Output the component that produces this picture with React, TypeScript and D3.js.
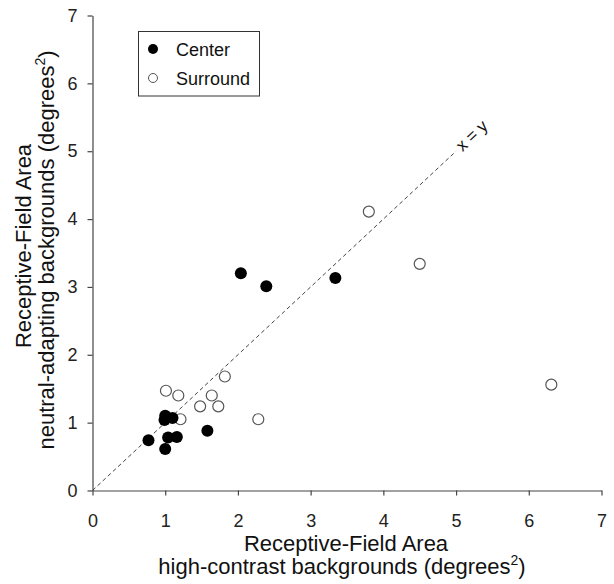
import { useEffect, useRef } from 'react';
import * as d3 from 'd3';

const WIDTH = 614;
const HEIGHT = 584;
const FONT = 'Arial, "Liberation Sans", sans-serif';

// Center and surround receptive-field areas (x: high-contrast, y: neutral-adapting)
const centerX = [1.0, 0.99, 1.1, 0.77, 1.0, 1.04, 1.16, 1.58, 2.04, 2.39, 3.34];
const centerY = [1.1, 1.04, 1.07, 0.74, 0.61, 0.78, 0.79, 0.88, 3.2, 3.01, 3.13];
const surroundX = [1.01, 1.18, 1.21, 1.48, 1.64, 1.73, 1.82, 2.28, 3.8, 4.5, 6.31];
const surroundY = [1.47, 1.4, 1.05, 1.24, 1.4, 1.24, 1.68, 1.05, 4.11, 3.34, 1.56];
const ticks = [0, 1, 2, 3, 4, 5, 6, 7];
const identityLine = [0, 5];
const legendItems = ['Center', 'Surround'];

export default function App() {
  const svgRef = useRef<SVGSVGElement>(null);

  useEffect(() => {
    const svg = d3.select(svgRef.current);
    svg.selectAll('*').remove();

    const x = d3.scaleLinear().domain([0, 7]).range([92.5, 601.5]);
    const y = d3.scaleLinear().domain([0, 7]).range([490.5, 15.5]);

    // Axes
    const xAxis = svg.append('g')
      .attr('transform', `translate(0,${y(0)})`)
      .call(d3.axisBottom(x).tickValues(ticks).tickFormat(d3.format('d')).tickSize(5).tickPadding(19).tickSizeOuter(0));
    const yAxis = svg.append('g')
      .attr('transform', `translate(${x(0)},0)`)
      .call(d3.axisLeft(y).tickValues(ticks).tickFormat(d3.format('d')).tickSize(5).tickPadding(10).tickSizeOuter(0));

    [xAxis, yAxis].forEach((a) => {
      a.select('.domain').attr('stroke', '#444').attr('stroke-width', 1.2);
      a.selectAll('.tick line').attr('stroke', '#444').attr('stroke-width', 1.2);
      a.selectAll('.tick text')
        .style('font-family', FONT)
        .style('font-size', '18px')
        .attr('fill', '#222');
    });
    xAxis.selectAll('.tick text').attr('dy', '0.71em');

    // x = y reference line
    svg.append('line')
      .attr('x1', x(identityLine[0]))
      .attr('y1', y(identityLine[0]))
      .attr('x2', x(identityLine[1]))
      .attr('y2', y(identityLine[1]))
      .attr('stroke', '#444')
      .attr('stroke-width', 1)
      .attr('stroke-dasharray', '4,3');

    const ang = (Math.atan2(y(0) - y(1), x(1) - x(0)) * 180) / Math.PI;
    svg.append('text')
      .attr('transform', `translate(${x(5.06) + 2},${y(5.0) + 1}) rotate(${-ang})`)
      .style('font-family', FONT)
      .style('font-size', '17px')
      .attr('fill', '#111')
      .text('x = y');

    // Points
    svg.append('g')
      .selectAll('circle')
      .data(surroundX.map((v, i) => [v, surroundY[i]]))
      .join('circle')
      .attr('cx', (d) => x(d[0]))
      .attr('cy', (d) => y(d[1]))
      .attr('r', 5.5)
      .attr('fill', '#fff')
      .attr('stroke', '#555')
      .attr('stroke-width', 1.2);

    svg.append('g')
      .selectAll('circle')
      .data(centerX.map((v, i) => [v, centerY[i]]))
      .join('circle')
      .attr('cx', (d) => x(d[0]))
      .attr('cy', (d) => y(d[1]))
      .attr('r', 6)
      .attr('fill', '#000');

    // Legend
    const lg = svg.append('g');
    lg.append('rect')
      .attr('x', 138.5).attr('y', 31.5)
      .attr('width', 121).attr('height', 64.5)
      .attr('fill', '#fff').attr('stroke', '#333').attr('stroke-width', 1);
    legendItems.forEach((name, i) => {
      lg.append('circle')
        .attr('cx', 153).attr('cy', 49 + i * 29)
        .attr('r', i === 0 ? 5 : 4.5)
        .attr('fill', i === 0 ? '#000' : '#fff')
        .attr('stroke', i === 0 ? 'none' : '#555')
        .attr('stroke-width', 1);
      lg.append('text')
        .attr('x', 176).attr('y', 55.5 + i * 29)
        .style('font-family', FONT).style('font-size', '18px')
        .attr('fill', '#111')
        .text(name);
    });

    // Axis titles
    const xt = svg.append('text')
      .attr('text-anchor', 'middle')
      .style('font-family', FONT).style('font-size', '22px')
      .attr('fill', '#111');
    xt.append('tspan').attr('x', 346).attr('y', 551).text('Receptive-Field Area');
    const xl2 = xt.append('tspan').attr('x', 342).attr('y', 574);
    xl2.append('tspan').text('high-contrast backgrounds (degrees');
    xl2.append('tspan').attr('dy', -9).style('font-size', '14px').text('2');
    xl2.append('tspan').attr('dy', 9).text(')');

    const yt = svg.append('text')
      .attr('text-anchor', 'middle')
      .attr('transform', 'translate(0,250) rotate(-90)')
      .style('font-family', FONT).style('font-size', '22px')
      .attr('fill', '#111');
    yt.append('tspan').attr('x', 4).attr('y', 31).text('Receptive-Field Area');
    const yl2 = yt.append('tspan').attr('x', 0).attr('y', 54);
    yl2.append('tspan').text('neutral-adapting backgrounds (degrees');
    yl2.append('tspan').attr('dy', -9).style('font-size', '14px').text('2');
    yl2.append('tspan').attr('dy', 9).text(')');
  }, []);

  return (
    <svg
      ref={svgRef}
      width={WIDTH}
      height={HEIGHT}
      viewBox={`0 0 ${WIDTH} ${HEIGHT}`}
      style={{ position: 'absolute', left: 0, top: 0, background: '#fff' }}
    />
  );
}
